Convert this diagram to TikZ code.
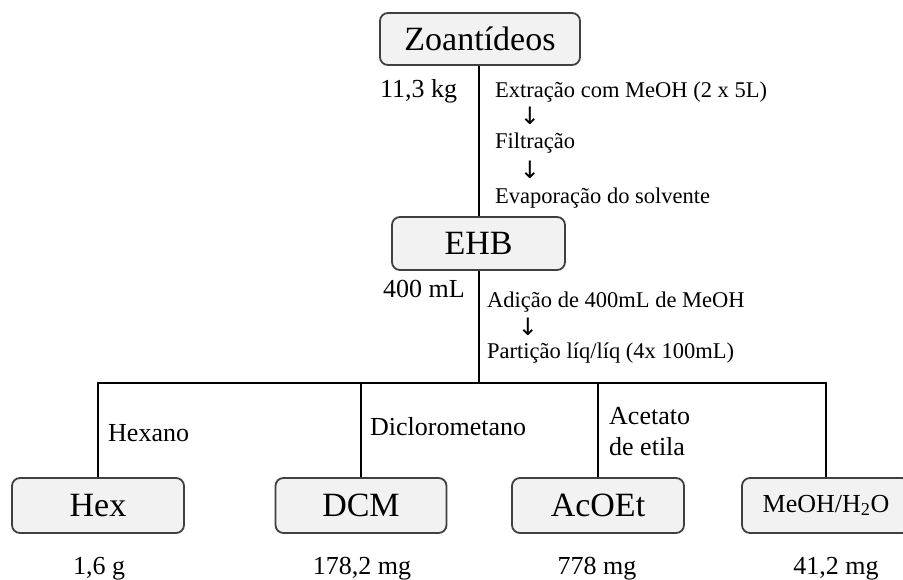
\documentclass[tikz,border=0pt]{standalone}
\usepackage{fontspec}
\setmainfont{Liberation Serif}
\newfontfamily\arrowfont{DejaVu Sans}
\usetikzlibrary{positioning}

\definecolor{boxfill}{RGB}{242,242,242}
\definecolor{boxline}{RGB}{64,64,64}

\tikzset{
  box/.style={draw=boxline, fill=boxfill, rounded corners=8pt, line width=1.8pt,
    minimum width=172pt, minimum height=55pt, inner sep=0pt,
    font=\fontsize{34}{40}\selectfont},
  txt/.style={anchor=base west, inner sep=0pt, font=\fontsize{26}{30}\selectfont},
  proc/.style={anchor=base west, inner sep=0pt, font=\fontsize{22.5}{26}\selectfont},
  down/.style={anchor=base, inner sep=0pt, font=\arrowfont\fontsize{24}{26}\selectfont},
  amount/.style={anchor=base, inner sep=0pt, font=\fontsize{26}{30}\selectfont},
  link/.style={line width=2pt}
}

\begin{document}
\begin{tikzpicture}[x=1pt,y=-1pt]
            \useasboundingbox (0,0) rectangle (903,579);

            % boxes
            \node[box, minimum width=200pt, minimum height=52pt] (zoa) at (480,39) {Zoantídeos};
            \node[box, minimum width=173pt, minimum height=53pt] (ehb) at (478.5,243.5) {EHB};
            \node[box] (hex) at (98,505.5) {Hex};
            \node[box, minimum width=171pt] (dcm) at (361,505.5) {DCM};
            \node[box] (acoet) at (598,505.5) {AcOEt};
            \node[box, minimum width=168pt, font=\fontsize{26}{30}\selectfont] (mix) at (826,505.5) {MeOH/H\textsubscript{2}O};

            % connectors
            \coordinate (split) at (478.5,383);
            \draw[link] (ehb.north) -- (ehb.north |- zoa.south);
            \draw[link] (ehb.south) -- (split);
            \draw[link] (hex.north) |- (split) -| (mix.north);
            \draw[link] (dcm.north) -- (dcm.north |- split);
            \draw[link] (acoet.north) -- (acoet.north |- split);

            % extraction
            \node[txt] (kg) at (380,97) {11,3 kg};
            \node[proc] (ext) at (495,97) {Extração com MeOH (2 x 5L)};
            \node[down] (arr1) at (530,124) {↓};
            \node[proc] (filt) at (495,148) {Filtração};
            \node[down] (arr2) at (530,178) {↓};
            \node[proc] (evap) at (495,203) {Evaporação do solvente};

            % partition
            \node[txt] (ml) at (383,297) {400 mL};
            \node[proc] (adic) at (487,307) {Adição de 400mL de MeOH};
            \node[down] (arr3) at (528,335) {↓};
            \node[proc] (part) at (487,358) {Partição líq/líq (4x 100mL)};

            % solvents
            \node[txt] (hexano) at (108,441) {Hexano};
            \node[txt] (dicl) at (370,435) {Diclorometano};
            \node[txt] (acet) at (609,424) {Acetato};
            \node[txt] (etila) at (609,455) {de etila};

            % yields
            \node[amount] (m1) at (99,574) {1,6 g};
            \node[amount] (m2) at (362,574) {178,2 mg};
            \node[amount] (m3) at (597,574) {778 mg};
            \node[amount] (m4) at (836,574) {41,2 mg};
\end{tikzpicture}
\end{document}
